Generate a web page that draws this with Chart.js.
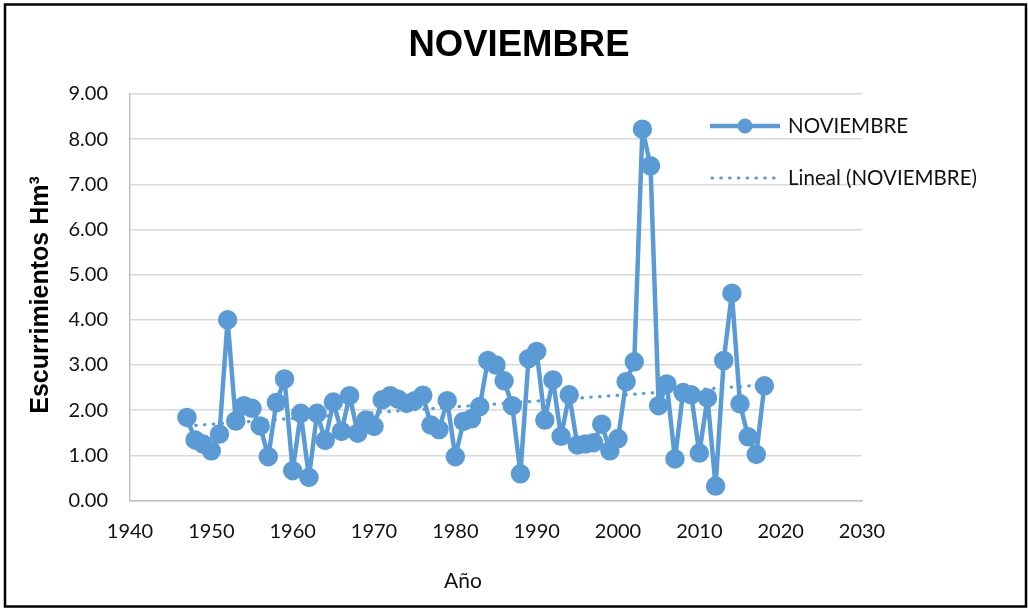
<!DOCTYPE html>
<html>
<head>
<meta charset="utf-8">
<script src="https://cdn.jsdelivr.net/npm/chart.js@4.4.1/dist/chart.umd.min.js"></script>
<style>
  html, body { margin: 0; padding: 0; background: #fff; }
  #wrap { width: 1028px; height: 609px; position: relative; }
</style>
</head>
<body>
<div id="wrap"><canvas id="c" width="1028" height="609"></canvas></div>
<script>
// ---- data ----
const years = [1947,1948,1949,1950,1951,1952,1953,1954,1955,1956,1957,1958,1959,1960,1961,1962,1963,1964,1965,1966,1967,1968,1969,1970,1971,1972,1973,1974,1975,1976,1977,1978,1979,1980,1981,1982,1983,1984,1985,1986,1987,1988,1989,1990,1991,1992,1993,1994,1995,1996,1997,1998,1999,2000,2001,2002,2003,2004,2005,2006,2007,2008,2009,2010,2011,2012,2013,2014,2015,2016,2017,2018];
const noviembre = [1.84,1.34,1.25,1.10,1.47,4.00,1.76,2.10,2.04,1.65,0.97,2.17,2.69,0.66,1.93,0.51,1.93,1.33,2.18,1.53,2.32,1.49,1.78,1.64,2.23,2.32,2.24,2.15,2.21,2.33,1.67,1.57,2.21,0.97,1.75,1.81,2.08,3.10,3.00,2.65,2.10,0.59,3.14,3.30,1.78,2.67,1.42,2.34,1.23,1.25,1.28,1.69,1.10,1.37,2.63,3.07,8.22,7.41,2.10,2.58,0.92,2.39,2.34,1.05,2.27,0.32,3.10,4.59,2.14,1.41,1.02,2.54];
const trendYears = [1947, 2018];
const trendValues = [1.65, 2.56];
const xTicks = [1940,1950,1960,1970,1980,1990,2000,2010,2020,2030];
const yTicks = [0,1,2,3,4,5,6,7,8,9];
const titleText = 'NOVIEMBRE';
const seriesName = 'NOVIEMBRE';
const trendName = 'Lineal (NOVIEMBRE)';
const xTitle = 'Año';
const yTitle = 'Escurrimientos Hm³';

const BLUE = '#5B9BD5';
const TXT_FONT = 'Lato, "Open Sans", sans-serif';
const mainPts = years.map((y, i) => ({ x: y, y: noviembre[i] }));
const trendPts = trendYears.map((y, i) => ({ x: y, y: trendValues[i] }));

const decor = {
  id: 'decor',
  beforeDraw(chart) {
    const ctx = chart.ctx;
    ctx.save();
    ctx.fillStyle = '#fff';
    ctx.fillRect(0, 0, chart.width, chart.height);
    ctx.restore();
  },
  afterDraw(chart) {
    const ctx = chart.ctx;
    ctx.save();
    // outer border
    ctx.strokeStyle = '#000';
    ctx.lineWidth = 2.5;
    ctx.strokeRect(5, 4.5, 1021, 602);
    // title
    ctx.fillStyle = '#000';
    ctx.font = 'bold 36.5px "Liberation Sans", Arial, sans-serif';
    ctx.textAlign = 'center';
    ctx.textBaseline = 'middle';
    ctx.fillText(titleText, 519, 46);
    // x title
    ctx.font = '21px ' + TXT_FONT;
    ctx.fillStyle = '#111';
    ctx.fillText(xTitle, 463, 581);
    // y title
    ctx.save();
    ctx.translate(41, 295);
    ctx.rotate(-Math.PI / 2);
    ctx.font = 'bold 25px "Liberation Sans", Arial, sans-serif';
    ctx.fillStyle = '#000';
    ctx.fillText(yTitle, 0, 0);
    ctx.restore();
    // legend
    const ds0 = chart.data.datasets[0];
    const ds1 = chart.data.datasets[1];
    ctx.strokeStyle = ds0.borderColor;
    ctx.lineWidth = ds0.borderWidth;
    ctx.beginPath(); ctx.moveTo(710, 126); ctx.lineTo(780, 126); ctx.stroke();
    ctx.fillStyle = ds0.pointBackgroundColor;
    ctx.beginPath(); ctx.arc(745, 126, ds0.pointRadius, 0, Math.PI * 2); ctx.fill();
    ctx.strokeStyle = ds1.borderColor;
    ctx.lineWidth = ds1.borderWidth;
    ctx.lineCap = 'round';
    ctx.setLineDash(ds1.borderDash);
    ctx.beginPath(); ctx.moveTo(712, 178); ctx.lineTo(780, 178); ctx.stroke();
    ctx.setLineDash([]);
    ctx.fillStyle = '#111';
    ctx.textAlign = 'left';
    ctx.font = '20.5px ' + TXT_FONT;
    ctx.fillText(seriesName, 788, 126);
    ctx.fillText(trendName, 788, 178);
    ctx.restore();
  }
};

new Chart(document.getElementById('c'), {
  type: 'scatter',
  data: {
    datasets: [
      {
        label: seriesName,
        data: mainPts,
        showLine: true,
        borderColor: BLUE,
        backgroundColor: BLUE,
        pointBackgroundColor: BLUE,
        pointBorderColor: BLUE,
        borderWidth: 4.5,
        borderJoinStyle: 'round',
        pointRadius: 7.5,
        pointHoverRadius: 7.5,
        tension: 0,
        order: 2
      },
      {
        label: trendName,
        data: trendPts,
        showLine: true,
        borderColor: BLUE,
        borderWidth: 3.2,
        borderDash: [0.5, 8.3],
        borderCapStyle: 'round',
        pointRadius: 0,
        tension: 0,
        order: 1
      }
    ]
  },
  options: {
    responsive: false,
    animation: false,
    devicePixelRatio: 1,
    layout: { padding: { left: 0, right: 166, top: 94, bottom: 0 } },
    plugins: {
      legend: { display: false },
      title: { display: false },
      tooltip: { enabled: false }
    },
    scales: {
      x: {
        type: 'linear',
        min: 1940, max: 2030,
        afterBuildTicks: s => { s.ticks = xTicks.map(v => ({ value: v })); },
        afterFit: s => { s.height = 108.5; },
        grid: { display: false, drawTicks: false },
        border: { display: true, color: '#BFBFBF', width: 1.5 },
        ticks: {
          padding: 19,
          color: '#111',
          font: { family: TXT_FONT, size: 20 },
          maxRotation: 0,
          autoSkip: false,
          callback: v => String(v)
        }
      },
      y: {
        min: 0, max: 9,
        afterBuildTicks: s => { s.ticks = yTicks.map(v => ({ value: v })); },
        afterFit: s => { s.width = 130; },
        grid: { color: '#D9D9D9', lineWidth: 1.5, drawTicks: false },
        border: { display: true, color: '#BFBFBF', width: 1.5 },
        ticks: {
          padding: 22,
          color: '#111',
          font: { family: TXT_FONT, size: 20 },
          callback: v => Number(v).toFixed(2)
        }
      }
    }
  },
  plugins: [decor]
});
</script>
</body>
</html>
